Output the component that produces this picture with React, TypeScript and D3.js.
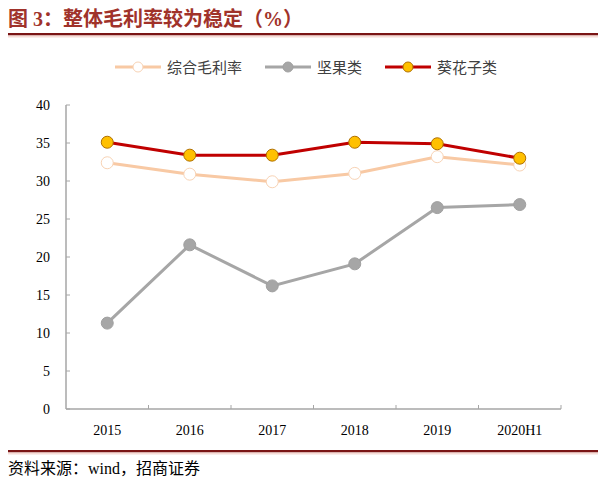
import React from "react";
import * as d3 from "d3";

const categories = ["2015", "2016", "2017", "2018", "2019", "2020H1"];
const seriesNames = ["综合毛利率", "坚果类", "葵花子类"];
const totalMargin = [32.4, 30.9, 29.9, 31.0, 33.2, 32.1];
const nutsMargin = [11.3, 21.6, 16.2, 19.1, 26.5, 26.9];
const sunflowerMargin = [35.1, 33.4, 33.4, 35.1, 34.9, 33.0];
const yTicks = [0, 5, 10, 15, 20, 25, 30, 35, 40];

const W = 600, H = 485;
const left = 66, right = 561, top = 105, bottom = 409;

export default function App() {
  const x = d3.scaleBand<string>().domain(categories).range([left, right]);
  const y = d3.scaleLinear().domain([0, 40]).range([bottom, top]);
  const cx = (c: string) => (x(c) as number) + x.bandwidth() / 2;
  const line = d3.line<number>().x((_, i) => cx(categories[i])).y((v) => y(v));

  const series = [
    { name: seriesNames[0], data: totalMargin, stroke: "#f8c9a4", fill: "#ffffff", mstroke: "#f8d3b5", r: 6, w: 3 },
    { name: seriesNames[1], data: nutsMargin, stroke: "#a6a6a6", fill: "#a6a6a6", mstroke: "#a0a0a0", r: 6, w: 3 },
    { name: seriesNames[2], data: sunflowerMargin, stroke: "#c00000", fill: "#ffc000", mstroke: "#b07000", r: 6, w: 3 },
  ];
  const legendX = [115, 265, 385];
  const font = "'Times New Roman', 'Liberation Serif', 'Noto Sans CJK SC', serif";

  return (
    <svg width={W} height={H} style={{ position: "absolute", left: 0, top: 0, background: "#fff" }} fontFamily={font}>
      <text x={8} y={26} fontSize={20} fill="#a0322a" fontWeight="bold" fontFamily="'Liberation Serif', 'Noto Sans CJK SC', serif">图 3：整体毛利率较为稳定（%）</text>
      <rect x={8} y={33} width={590} height={2.5} fill="#7a1515" />
      <rect x={8} y={35.5} width={590} height={2} fill="#f6dcd6" />

      {series.map((s, i) => (
        <g key={s.name}>
          <line x1={legendX[i]} x2={legendX[i] + 46} y1={67} y2={67} stroke={s.stroke} strokeWidth={s.w} />
          <circle cx={legendX[i] + 23} cy={67} r={5} fill={s.fill} stroke={s.mstroke} strokeWidth={1} />
          <text x={legendX[i] + 52} y={73} fontSize={15} fill="#404040" fontFamily="'Noto Sans CJK SC', sans-serif">{s.name}</text>
        </g>
      ))}

      <line x1={left} x2={left} y1={top} y2={bottom} stroke="#a6a6a6" strokeWidth={1.5} />
      <line x1={left} x2={right} y1={bottom} y2={bottom} stroke="#a6a6a6" strokeWidth={1.5} />
      {yTicks.map((t) => (
        <g key={t}>
          <line x1={left} x2={left + 4} y1={y(t)} y2={y(t)} stroke="#a6a6a6" />
          <text x={50} y={y(t) + 5} fontSize={14} textAnchor="end" fill="#000">{t}</text>
        </g>
      ))}
      {categories.map((c, i) => (
        <g key={c}>
          <line x1={(x(c) as number) + x.bandwidth()} x2={(x(c) as number) + x.bandwidth()} y1={bottom} y2={bottom - 4} stroke="#a6a6a6" />
          <text x={cx(c)} y={bottom + 26} fontSize={14} textAnchor="middle" fill="#000">{c}</text>
        </g>
      ))}

      {series.map((s) => (
        <g key={s.name}>
          <path d={line(s.data) || ""} fill="none" stroke={s.stroke} strokeWidth={s.w} />
          {s.data.map((v, i) => (
            <circle key={i} cx={cx(categories[i])} cy={y(v)} r={s.r} fill={s.fill} stroke={s.mstroke} strokeWidth={1} />
          ))}
        </g>
      ))}

      <rect x={8} y={450} width={590} height={2.5} fill="#7a1515" />
      <rect x={8} y={452.5} width={590} height={2} fill="#f6dcd6" />
      <text x={8} y={474} fontSize={16} fill="#000" fontFamily="'Liberation Serif', 'Noto Sans CJK SC', serif">资料来源：wind，招商证券</text>
    </svg>
  );
}
